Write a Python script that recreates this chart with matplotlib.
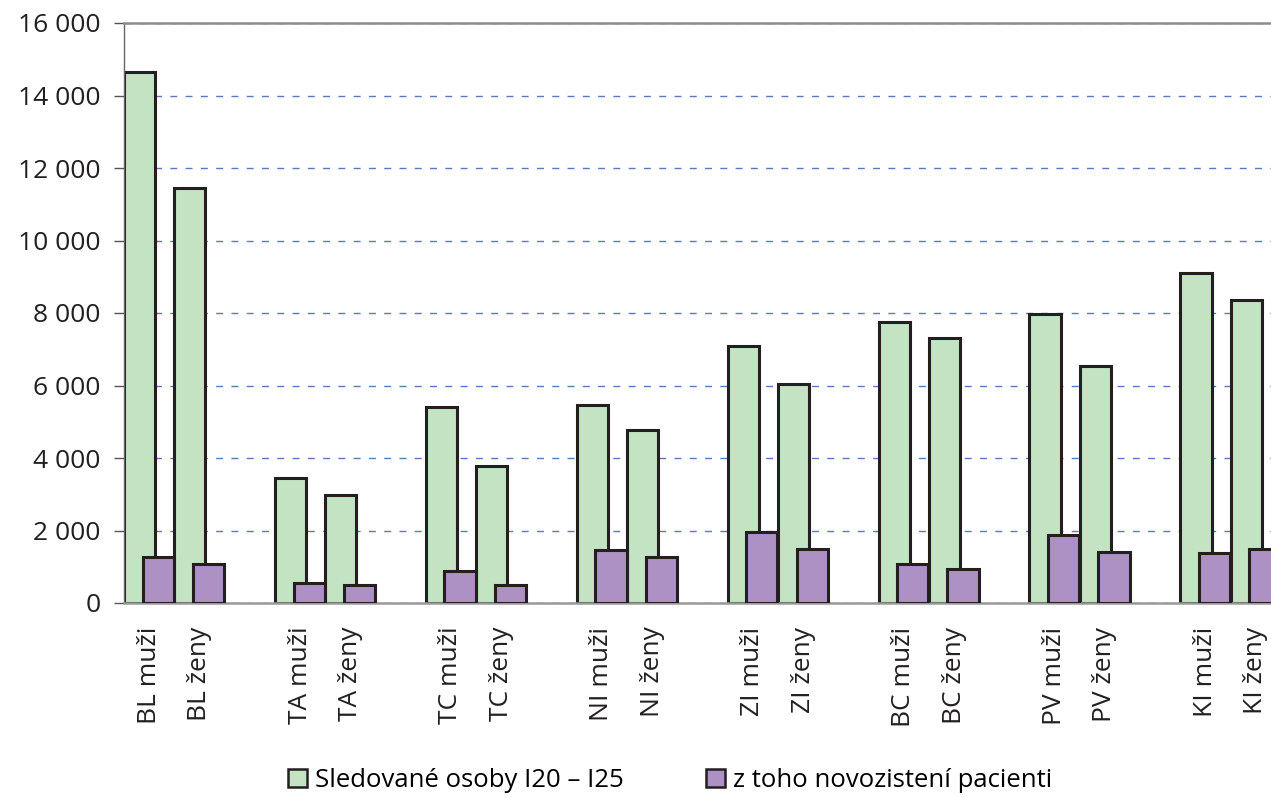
import matplotlib.pyplot as plt
from matplotlib.ticker import FuncFormatter, MultipleLocator
from matplotlib.patches import Patch
import numpy as np

plt.rcParams['font.family'] = ['Open Sans', 'DejaVu Sans']

# data
regions = ['BL', 'TA', 'TC', 'NI', 'ZI', 'BC', 'PV', 'KI']
sexes = ['muži', 'ženy']
sledovane = [14650, 11450, 3440, 2990, 5400, 3770, 5460, 4770,
             7090, 6050, 7760, 7300, 7960, 6540, 9100, 8370]
novozjisteni = [1280, 1070, 560, 500, 890, 500, 1450, 1280,
                1960, 1500, 1070, 940, 1880, 1400, 1370, 1500]
labels = [f'{r} {s}' for r in regions for s in sexes]

green = '#c3e3c2'
purple = '#ad91c5'
edge = '#231f20'

# each region takes two slots and one empty slot follows
pos = np.array([3 * g + j for g in range(len(regions)) for j in range(2)])

fig = plt.figure(figsize=(12.71, 7.98), dpi=100)
ax = fig.add_axes([124 / 1271, 195 / 798, 1157 / 1271, 580 / 798])

w = 0.62
ax.bar(pos - 0.19, sledovane, width=w, color=green, edgecolor=edge,
       linewidth=2.2, zorder=2)
ax.bar(pos + 0.18, novozjisteni, width=w, color=purple, edgecolor=edge,
       linewidth=2.2, zorder=3)

ax.set_xlim(-0.5, 22.5)
ax.set_ylim(0, 16000)
ax.yaxis.set_major_locator(MultipleLocator(2000))
ax.yaxis.set_major_formatter(FuncFormatter(lambda v, p: f'{int(v):,}'.replace(',', ' ')))
ax.tick_params(axis='y', labelsize=19, length=7, width=1, color='#555555',
               pad=10, labelcolor='#231f20')
ax.set_xticks(pos)
ax.set_xticklabels(labels, rotation=90, fontsize=19, color='#231f20')
ax.tick_params(axis='x', length=0, pad=17)

ax.set_axisbelow(True)
ax.yaxis.grid(True, color='#5b78c0', linewidth=1.0, linestyle=(0, (5, 6)))

ax.spines['top'].set_color('#8c8c8c')
ax.spines['top'].set_linewidth(1.8)
ax.spines['bottom'].set_color('#999999')
ax.spines['bottom'].set_linewidth(1.8)
ax.spines['left'].set_color('#666666')
ax.spines['left'].set_linewidth(1.0)
ax.spines['right'].set_visible(False)

handles = [Patch(facecolor=green, edgecolor=edge, linewidth=1.8),
           Patch(facecolor=purple, edgecolor=edge, linewidth=1.8)]
fig.legend(handles, ['Sledované osoby I20 – I25', 'z toho novozistení pacienti'],
           loc='center', bbox_to_anchor=(0.527, 0.022), ncol=2, frameon=False,
           fontsize=18.5, handlelength=0.75, handleheight=0.75,
           handletextpad=0.3, columnspacing=3.2, borderaxespad=0)

fig.savefig('out.png', dpi=100)
